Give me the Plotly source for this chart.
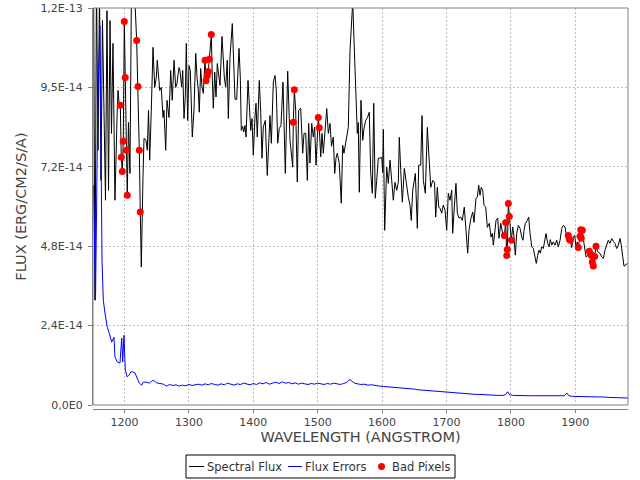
import plotly.graph_objects as go

# flux, wavelength in Angstrom, flux in 1e-14 erg/cm2/s/A
wave = [1151.9, 1154.2, 1156.5, 1158.9, 1161.2, 1163.5, 1165.8, 1168.2, 1170.5, 1172.8,
        1175.2, 1177.5, 1179.8, 1182.1, 1185.2, 1188.4, 1189.9, 1192.2, 1193.5, 1195.0,
        1196.6, 1198.1, 1199.7, 1201.2, 1202.8, 1204.3, 1206.2, 1208.5, 1210.9, 1214.8,
        1218.9, 1221.0, 1223.0, 1224.5, 1226.1, 1228.7, 1230.3, 1233.4, 1235.4, 1237.3,
        1239.1, 1241.6, 1244.3, 1246.9, 1249.4, 1250.9, 1254.7, 1257.1, 1259.8, 1261.3,
        1264.0, 1266.0, 1269.1, 1271.7, 1274.2, 1276.9, 1279.5, 1281.5, 1284.6, 1286.2,
        1288.8, 1290.4, 1292.4, 1294.4, 1296.0, 1298.1, 1300.2, 1302.2, 1305.3, 1307.9,
        1310.6, 1312.6, 1314.6, 1316.1, 1318.3, 1320.3, 1322.4, 1325.0, 1326.6, 1328.6,
        1330.1, 1331.7, 1334.8, 1336.3, 1337.9, 1340.1, 1342.1, 1344.1, 1346.3, 1348.3,
        1351.4, 1353.4, 1355.0, 1357.1, 1359.6, 1361.2, 1363.8, 1367.4, 1370.0, 1371.6,
        1374.2, 1377.8, 1379.8, 1381.4, 1383.5, 1385.1, 1387.1, 1388.7, 1391.8, 1393.8,
        1396.0, 1398.0, 1400.0, 1402.6, 1404.2, 1406.2, 1409.3, 1411.5, 1413.5, 1415.5,
        1418.6, 1421.7, 1423.9, 1425.9, 1428.0, 1431.1, 1433.7, 1435.7, 1437.9, 1440.4,
        1443.0, 1446.1, 1449.7, 1453.4, 1457.0, 1461.2, 1462.1, 1463.7, 1465.8, 1468.3,
        1470.5, 1473.6, 1476.7, 1478.7, 1481.4, 1483.9, 1486.0, 1488.0, 1490.7, 1493.2,
        1495.3, 1497.4, 1500.9, 1502.5, 1504.7, 1506.7, 1508.7, 1511.3, 1514.0, 1516.5,
        1519.1, 1521.4, 1524.2, 1526.4, 1528.4, 1530.4, 1533.5, 1536.6, 1538.8, 1540.8,
        1542.9, 1545.0, 1547.5, 1550.2, 1552.8, 1554.4, 1556.4, 1559.0, 1561.5, 1563.0,
        1564.6, 1567.2, 1569.9, 1571.9, 1574.5, 1577.3, 1580.1, 1582.3, 1584.8, 1587.0,
        1589.4, 1591.6, 1594.1, 1596.7, 1599.4, 1600.9, 1601.9, 1604.0, 1607.1, 1609.6,
        1612.3, 1614.9, 1617.4, 1620.0, 1622.7, 1625.2, 1626.7, 1628.9, 1631.4, 1634.5,
        1637.1, 1640.7, 1643.3, 1645.3, 1647.5, 1649.5, 1651.6, 1654.7, 1656.8, 1659.9,
        1662.0, 1664.0, 1667.1, 1670.2, 1672.8, 1675.5, 1678.6, 1681.4, 1683.2, 1685.7,
        1687.9, 1689.9, 1692.5, 1695.0, 1697.7, 1700.3, 1702.8, 1705.4, 1708.1, 1709.6,
        1712.1, 1714.7, 1716.8, 1719.4, 1722.0, 1724.5, 1727.6, 1730.3, 1732.9, 1734.9,
        1738.0, 1740.7, 1742.7, 1745.8, 1747.8, 1750.0, 1752.0, 1754.0, 1756.2, 1758.2,
        1760.9, 1763.4, 1766.5, 1769.1, 1771.1, 1772.7, 1774.8, 1776.9, 1779.5, 1781.5,
        1784.2, 1786.2, 1788.2, 1789.8, 1791.9, 1793.5, 1794.4, 1796.0, 1797.5, 1800.6,
        1802.8, 1804.8, 1806.8, 1809.0, 1811.5, 1814.1, 1816.8, 1818.8, 1820.3, 1822.4,
        1825.5, 1827.6, 1829.7, 1832.3, 1834.8, 1837.4, 1839.4, 1841.6, 1843.6, 1845.7,
        1847.8, 1850.3, 1853.0, 1854.5, 1857.2, 1859.2, 1861.2, 1863.4, 1865.8, 1868.5,
        1871.1, 1873.6, 1876.3, 1878.9, 1881.4, 1884.0, 1886.6, 1889.1, 1890.7, 1892.2,
        1894.4, 1896.9, 1899.1, 1901.1, 1903.1, 1904.7, 1907.3, 1908.4, 1909.3, 1910.9,
        1913.5, 1916.6, 1920.2, 1921.7, 1923.9, 1925.5, 1926.4, 1928.0, 1930.1, 1932.1,
        1934.8, 1938.4, 1941.0, 1943.5, 1946.1, 1948.8, 1951.2, 1953.9, 1956.5, 1959.0,
        1961.6, 1964.3, 1966.7, 1969.4, 1971.4, 1973.6, 1975.6, 1978.3, 1980.7, 1983.4]
flux_e14 = [13.13, 3.17, 12.83, 7.70, 12.53, 6.79, 11.62, 8.30, 6.19, 11.92,
            6.49, 11.62, 8.21, 10.93, 6.19, 8.69, 9.51, 9.00, 9.06, 7.49,
            7.06, 7.97, 11.59, 9.90, 7.70, 6.34, 8.54, 7.00, 12.83, 12.83,
            11.02, 9.63, 7.70, 5.83, 4.17, 6.88, 8.06, 8.00, 7.70, 8.91,
            7.40, 8.91, 10.81, 9.60, 9.90, 10.42, 9.51, 9.60, 8.69, 8.91,
            7.70, 9.21, 8.69, 10.11, 9.21, 10.42, 9.60, 9.72, 10.20, 10.11,
            9.61, 10.11, 8.66, 9.31, 10.93, 8.60, 10.26, 10.11, 8.10, 8.91,
            10.63, 9.91, 9.51, 8.85, 10.17, 9.61, 9.42, 10.42, 9.80, 9.96,
            10.08, 10.45, 11.20, 9.91, 8.97, 10.06, 9.31, 10.32, 9.91, 9.66,
            11.14, 10.32, 9.91, 9.61, 10.42, 8.66, 10.51, 11.53, 10.02, 9.24,
            9.24, 10.78, 9.91, 8.30, 8.42, 8.25, 8.45, 8.10, 9.81, 8.91,
            8.30, 8.66, 7.55, 8.70, 9.12, 8.10, 9.81, 8.85, 7.46, 8.40,
            8.60, 6.94, 8.00, 8.75, 7.91, 9.76, 9.96, 9.51, 7.91, 8.36,
            8.45, 9.76, 7.00, 10.09, 8.00, 7.19, 8.55, 9.53, 8.91, 6.74,
            8.91, 8.97, 7.61, 8.21, 8.21, 6.79, 8.51, 7.31, 8.51, 8.10,
            8.40, 7.25, 8.69, 8.38, 7.50, 8.21, 7.61, 8.40, 8.96, 8.21,
            8.51, 7.82, 8.10, 7.00, 7.46, 7.61, 7.31, 6.10, 7.85, 7.61,
            7.85, 8.21, 8.39, 10.72, 11.92, 12.20, 11.02, 9.21, 8.21, 8.54,
            6.43, 9.21, 8.00, 8.36, 8.60, 8.69, 8.85, 7.00, 6.40, 9.12,
            6.25, 6.79, 7.46, 7.46, 7.49, 7.03, 8.33, 5.28, 7.19, 6.70,
            7.40, 6.79, 6.19, 6.73, 6.49, 6.73, 8.09, 7.09, 6.13, 7.15,
            6.73, 6.28, 6.04, 5.58, 6.49, 6.79, 7.00, 5.34, 7.25, 7.25,
            8.75, 6.79, 6.40, 8.39, 7.61, 6.58, 6.79, 6.73, 5.68, 6.58,
            5.98, 5.95, 5.80, 6.04, 5.89, 5.28, 6.40, 6.19, 6.49, 5.19,
            5.98, 6.70, 5.80, 5.65, 5.68, 5.58, 5.98, 5.19, 4.59, 5.28,
            5.65, 5.83, 5.52, 6.25, 6.28, 6.64, 6.34, 6.58, 6.49, 6.04,
            5.98, 5.37, 5.49, 5.08, 5.19, 4.83, 5.23, 5.58, 5.65, 5.04,
            5.49, 5.28, 5.08, 5.12, 5.52, 4.52, 4.70, 6.09, 5.70, 4.98,
            5.38, 5.08, 4.53, 5.18, 5.43, 5.34, 5.08, 4.98, 5.28, 5.49,
            5.58, 5.68, 5.19, 4.78, 4.73, 4.48, 4.28, 4.53, 4.68, 4.59,
            4.78, 4.73, 4.98, 5.18, 4.88, 4.78, 5.00, 4.83, 4.93, 4.83,
            4.98, 4.78, 4.98, 5.33, 5.43, 5.38, 5.08, 5.12, 5.01, 4.98,
            4.76, 5.08, 5.13, 4.78, 4.93, 4.76, 5.10, 5.30, 5.04, 5.28,
            4.88, 4.48, 4.53, 4.65, 4.56, 4.51, 4.32, 4.20, 4.49, 4.80,
            4.63, 4.58, 4.48, 4.43, 4.68, 4.88, 4.98, 4.89, 5.03, 4.95,
            4.88, 4.73, 4.83, 5.03, 4.83, 4.48, 4.20, 4.23, 4.28, 4.26]

err_wave = [1151.9, 1155.0, 1158.5, 1161.9, 1165.1, 1167.1, 1169.7, 1173.3, 1176.4, 1180.1,
            1183.7, 1185.2, 1188.8, 1193.0, 1195.7, 1197.2, 1199.2, 1201.2, 1204.3, 1207.5,
            1209.6, 1212.7, 1216.3, 1218.9, 1223.0, 1226.7, 1229.2, 1234.5, 1238.5, 1242.2,
            1244.7, 1250.0, 1255.1, 1260.2, 1265.5, 1270, 1275, 1280, 1285, 1290,
            1295, 1300, 1305, 1310, 1315, 1320, 1325, 1330, 1335, 1340,
            1345, 1350, 1355, 1360, 1365, 1370, 1375, 1380, 1385, 1390,
            1395, 1400, 1405, 1410, 1415, 1420, 1425, 1430, 1435, 1440,
            1445, 1450, 1455, 1460, 1465, 1470, 1475, 1480, 1485, 1490,
            1495, 1500, 1505, 1510, 1515, 1520, 1525, 1530, 1535, 1540,
            1545, 1550, 1553, 1557, 1562, 1567, 1572, 1578, 1584, 1590,
            1596, 1602, 1608, 1614, 1620, 1626, 1632, 1638, 1644, 1650,
            1656, 1662, 1668, 1674, 1680, 1686, 1692, 1698, 1704, 1710,
            1716, 1722, 1728, 1734, 1740, 1746, 1752, 1758, 1764, 1770,
            1776, 1782, 1788, 1792, 1795, 1798, 1804, 1812, 1820, 1828,
            1836, 1844, 1852, 1860, 1868, 1876, 1883, 1887, 1890, 1896,
            1904, 1912, 1920, 1928, 1936, 1944, 1952, 1960, 1968, 1976, 1982]
err_e14 = [6.64, 3.17, 9.00, 11.47, 4.38, 3.17, 2.78, 2.35, 2.17, 1.90,
           2.05, 1.45, 1.30, 1.27, 2.02, 1.30, 2.11, 1.06, 0.85, 0.91,
           1.00, 1.00, 0.97, 0.85, 0.66, 0.60, 0.69, 0.69, 0.66, 0.72,
           0.75, 0.67, 0.66, 0.63, 0.57, 0.62, 0.59, 0.61, 0.57, 0.60,
           0.58, 0.62, 0.59, 0.61, 0.63, 0.60, 0.64, 0.61, 0.65, 0.62,
           0.60, 0.64, 0.61, 0.66, 0.62, 0.60, 0.64, 0.62, 0.66, 0.63,
           0.61, 0.65, 0.62, 0.67, 0.64, 0.68, 0.63, 0.66, 0.69, 0.65,
           0.70, 0.66, 0.68, 0.64, 0.67, 0.63, 0.66, 0.64, 0.62, 0.65,
           0.63, 0.66, 0.64, 0.62, 0.65, 0.63, 0.66, 0.64, 0.62, 0.65,
           0.68, 0.77, 0.72, 0.66, 0.64, 0.62, 0.63, 0.60, 0.61, 0.58,
           0.57, 0.56, 0.55, 0.54, 0.54, 0.53, 0.52, 0.52, 0.50, 0.48,
           0.46, 0.45, 0.43, 0.42, 0.42, 0.41, 0.41, 0.40, 0.39, 0.37,
           0.36, 0.35, 0.34, 0.33, 0.33, 0.32, 0.32, 0.31, 0.31, 0.30,
           0.30, 0.29, 0.29, 0.32, 0.40, 0.31, 0.29, 0.28, 0.29, 0.28,
           0.28, 0.28, 0.27, 0.28, 0.27, 0.27, 0.28, 0.36, 0.28, 0.26,
           0.26, 0.25, 0.25, 0.24, 0.24, 0.24, 0.23, 0.23, 0.21, 0.21, 0.21]

bad_wave = [1193.5, 1195.0, 1196.6, 1198.1, 1199.7, 1201.2, 1202.8, 1204.3, 1218.9, 1221.0,
            1223.0, 1224.5, 1325.0, 1326.6, 1328.6, 1330.1, 1331.7, 1334.8, 1462.1, 1463.7,
            1500.9, 1502.5, 1789.8, 1791.9, 1793.5, 1794.4, 1796.0, 1797.5, 1800.6, 1889.1,
            1890.7, 1892.2, 1904.7, 1907.3, 1908.4, 1909.3, 1910.9, 1921.7, 1923.9, 1925.5,
            1926.4, 1928.0, 1930.1, 1932.1]
bad_e14 = [9.06, 7.49, 7.06, 7.97, 11.59, 9.90, 7.70, 6.34, 11.02, 9.63,
           7.70, 5.83, 10.42, 9.80, 9.96, 10.08, 10.45, 11.20, 8.55, 9.53,
           8.69, 8.38, 5.12, 5.52, 4.52, 4.70, 6.09, 5.70, 4.98, 5.12,
           5.01, 4.98, 4.76, 5.10, 5.30, 5.04, 5.28, 4.65, 4.56, 4.51,
           4.32, 4.20, 4.49, 4.80]

ytick_vals = [0, 2.4e-14, 4.8e-14, 7.2e-14, 9.6e-14, 1.2e-13]
ytick_text = ["0,0E0", "2,4E-14", "4,8E-14", "7,2E-14", "9,5E-14", "1,2E-13"]
xtick_vals = [1200, 1300, 1400, 1500, 1600, 1700, 1800, 1900]

flux = [v * 1e-14 for v in flux_e14]
err = [v * 1e-14 for v in err_e14]
bad = [v * 1e-14 for v in bad_e14]

font = "DejaVu Sans"

# plot area in page pixels: x 93..628, y 8..409 (x axis sits 4px below the frame)
L, R, T, B = 93, 628, 8, 409


def px(x):
    return (x - L) / (R - L)


def py(y):
    return (B - y) / (B - T)


fig = go.Figure()
fig.add_trace(go.Scatter(x=wave, y=flux, name="Spectral Flux", mode="lines",
                         line=dict(color="black", width=1)))
fig.add_trace(go.Scatter(x=err_wave, y=err, name="Flux Errors", mode="lines",
                         line=dict(color="#0000ff", width=1)))
fig.add_trace(go.Scatter(x=bad_wave, y=bad, name="Bad Pixels", mode="markers",
                         marker=dict(color="#ff0000", size=7)))

fig.update_layout(
    width=640, height=480,
    margin=dict(l=L, r=640 - R, t=T, b=480 - B, autoexpand=False),
    paper_bgcolor="white", plot_bgcolor="white",
    font=dict(family=font, size=11, color="#444444"),
    showlegend=False,
)
fig.update_xaxes(
    range=[1151.1, 1981.8], tickvals=xtick_vals,
    anchor="free", position=0, automargin=False,
    showline=True, linecolor="#808080", linewidth=1,
    ticks="outside", ticklen=3, tickcolor="#808080",
    showgrid=True, gridcolor="#c0c0c0", griddash="2px,2px", gridwidth=1,
    zeroline=False,
    title=dict(text="WAVELENGTH (ANGSTROM)", font=dict(size=14.5, color="#444444"), standoff=3),
)
fig.update_yaxes(
    range=[0, 1.2e-13], domain=[4 / (B - T), 1], automargin=False,
    tickvals=ytick_vals, ticktext=ytick_text, ticklabelstandoff=3,
    showline=True, linecolor="#808080", linewidth=1,
    ticks="outside", ticklen=4, tickcolor="#808080",
    showgrid=True, gridcolor="#c0c0c0", griddash="2px,2px", gridwidth=1,
    zeroline=False,
    title=dict(text="FLUX (ERG/CM2/S/A)", font=dict(size=14.5, color="#444444"), standoff=10),
)
fig.add_shape(type="rect", xref="x domain", yref="y domain", x0=0, x1=1, y0=0, y1=1,
              line=dict(color="#808080", width=1))

# legend box under the chart, drawn like the original (short line samples)
ly = 466.5
fig.add_shape(type="rect", xref="paper", yref="paper",
              x0=px(186), x1=px(455), y0=py(478), y1=py(455),
              line=dict(color="black", width=1), fillcolor="white")
fig.add_shape(type="line", xref="paper", yref="paper",
              x0=px(189), x1=px(204), y0=py(ly), y1=py(ly), line=dict(color="black", width=1))
fig.add_shape(type="line", xref="paper", yref="paper",
              x0=px(288), x1=px(302), y0=py(ly), y1=py(ly), line=dict(color="#0000ff", width=1))
fig.add_shape(type="circle", xref="paper", yref="paper",
              x0=px(378), x1=px(385), y0=py(ly + 3.5), y1=py(ly - 3.5),
              line=dict(width=0), fillcolor="#ff0000")
for name, x in [("Spectral Flux", 206), ("Flux Errors", 304), ("Bad Pixels", 391)]:
    fig.add_annotation(text=name, xref="paper", yref="paper", x=px(x), y=py(ly),
                       xanchor="left", yanchor="middle", showarrow=False, borderpad=0,
                       font=dict(family=font, size=11.5, color="#333333"))

fig.write_html("out.html", config={"displayModeBar": False},
               post_script="document.body.style.margin = '0';")
